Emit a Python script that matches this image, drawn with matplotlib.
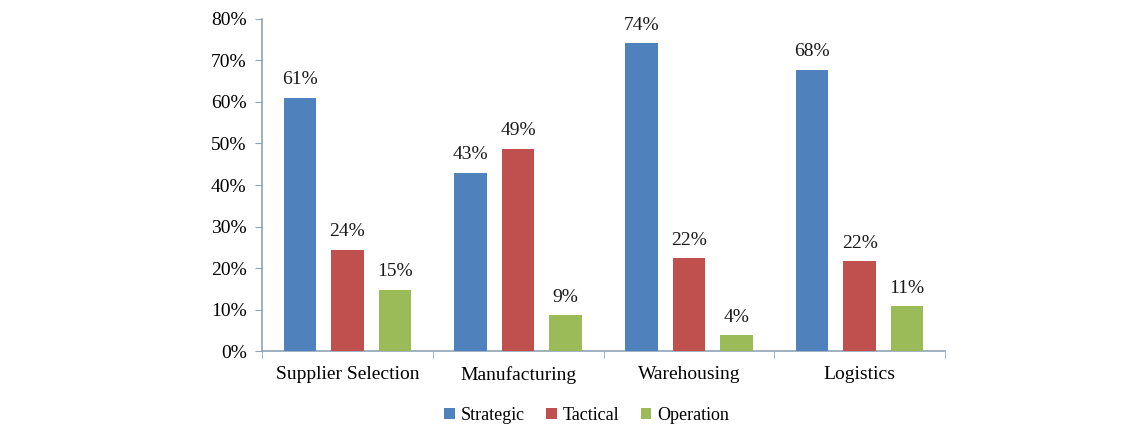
import numpy as np
import matplotlib.pyplot as plt
from matplotlib.ticker import FixedLocator, PercentFormatter

categories = ["Supplier Selection", "Manufacturing", "Warehousing", "Logistics"]
series = ["Strategic", "Tactical", "Operation"]
strategic = [61.0, 43.0, 74.2, 67.7]
tactical = [24.4, 48.7, 22.3, 21.6]
operation = [14.7, 8.6, 3.8, 10.8]
colors = ["#4f81bd", "#c0504d", "#9bbb59"]

plt.rcParams['font.family'] = ['Liberation Serif', 'DejaVu Serif']

fig = plt.figure(figsize=(11.43, 4.48), dpi=100)
ax = fig.add_axes([0.2292, 0.2165, 0.5976, 0.7411])

x = np.arange(len(categories))
pitch = 0.278
width = 0.19
for i, (name, vals) in enumerate(zip(series, [strategic, tactical, operation])):
    bars = ax.bar(x + (i - 1) * pitch, vals, width, color=colors[i], label=name, zorder=3)
    for b, v in zip(bars, vals):
        ax.text(b.get_x() + b.get_width() / 2, v + 2.3, f"{round(v)}%",
                ha="center", va="bottom", fontsize=14, color="#1a1a1a")

ax.set_xlim(-0.5, len(categories) - 0.5)
ax.set_ylim(0, 80)
ax.set_yticks(np.arange(0, 81, 10))
ax.yaxis.set_major_formatter(PercentFormatter(decimals=0))
ax.set_xticks(x)
ax.set_xticklabels(categories)
ax.xaxis.set_minor_locator(FixedLocator(np.arange(-0.5, len(categories), 1.0)))
ax.tick_params(axis="x", which="major", length=0, pad=11, labelsize=14)
ax.tick_params(axis="x", which="minor", length=5, color="#8fa3b8", direction="out")
ax.tick_params(axis="y", length=5, color="#8fa3b8", labelsize=14, pad=6)

for s in ["top", "right"]:
    ax.spines[s].set_visible(False)
for s in ["left", "bottom"]:
    ax.spines[s].set_color("#8fa3b8")
    ax.spines[s].set_linewidth(1.2)

ax.legend(loc="upper center", bbox_to_anchor=(0.475, -0.12), ncol=3, frameon=False,
          fontsize=13, handlelength=0.6, handleheight=0.6, handletextpad=0.3,
          columnspacing=1.2)

fig.savefig("out.png", dpi=100)
